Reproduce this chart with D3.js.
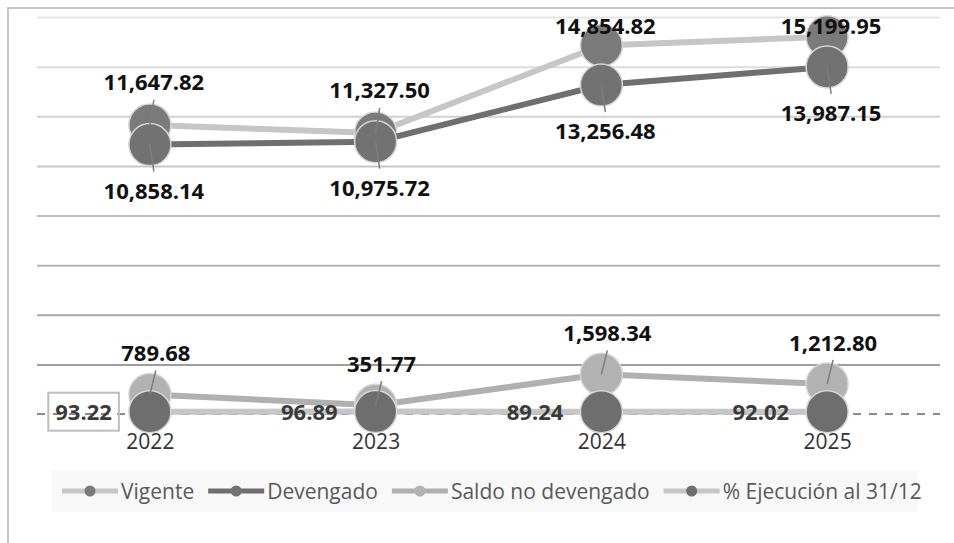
<!DOCTYPE html>
<html>
<head>
<meta charset="utf-8">
<script src="https://cdn.jsdelivr.net/npm/d3@7"></script>
<style>
  body { margin: 0; background: #fff; }
  svg { display: block; font-family: "Open Sans", sans-serif; }
</style>
</head>
<body>
<script>
// data
const years = ["2022", "2023", "2024", "2025"];
const vigente = [11647.82, 11327.50, 14854.82, 15199.95];
const devengado = [10858.14, 10975.72, 13256.48, 13987.15];
const saldo = [789.68, 351.77, 1598.34, 1212.80];
const ejecucion = [93.22, 96.89, 89.24, 92.02];
const yTicks = [2000, 4000, 6000, 8000, 10000, 12000, 14000, 16000];
const legendNames = ["Vigente", "Devengado", "Saldo no devengado", "% Ejecución al 31/12"];

const W = 954, H = 543;
const plotLeft = 37, plotRight = 940, plotTop = 17, zeroY = 414;

const svg = d3.select("body").append("svg")
    .attr("width", W)
    .attr("height", H);

// chart frame (only left/top edges visible)
svg.append("path")
    .attr("d", "M8,543 V8 H954")
    .attr("fill", "none")
    .attr("stroke", "#c3c3c3")
    .attr("stroke-width", 2);

const x = d3.scalePoint().domain(years).range([plotLeft, plotRight]).padding(0.5);
const y = d3.scaleLinear().domain([0, 16000]).range([zeroY, plotTop]);

// gridlines, getting darker towards the bottom
const gridColor = d3.scaleLinear().domain([16000, 2000]).range(["#e6e6e6", "#9e9e9e"]);
const grid = svg.append("g")
    .attr("transform", "translate(" + plotLeft + ",0)")
    .call(d3.axisLeft(y).tickValues(yTicks).tickSize(-(plotRight - plotLeft)).tickFormat(""));
grid.select(".domain").remove();
grid.selectAll(".tick line")
    .attr("stroke", d => gridColor(d))
    .attr("stroke-width", 2);

// dashed zero line
svg.append("line")
    .attr("x1", plotLeft).attr("x2", plotRight)
    .attr("y1", y(0)).attr("y2", y(0))
    .attr("stroke", "#8a8a8a")
    .attr("stroke-width", 2)
    .attr("stroke-dasharray", "8,8");

// x axis labels
const xAxis = svg.append("g")
    .attr("transform", "translate(0," + zeroY + ")")
    .call(d3.axisBottom(x).tickSize(0).tickPadding(20));
xAxis.select(".domain").remove();
xAxis.selectAll("text")
    .attr("font-family", "Open Sans, sans-serif")
    .attr("font-size", 21)
    .attr("fill", "#333");

const series = [
    { name: legendNames[0], values: vigente, line: "#c6c6c6", dot: "#7a7a7a" },
    { name: legendNames[1], values: devengado, line: "#6f6f6f", dot: "#727272" },
    { name: legendNames[2], values: saldo, line: "#b0b0b0", dot: "#b2b2b2" },
    { name: legendNames[3], values: ejecucion, line: "#c6c6c6", dot: "#6e6e6e" }
];

const line = d3.line()
    .x((d, i) => x(years[i]))
    .y(d => y(d));

series.forEach(s => {
    svg.append("path")
        .datum(s.values)
        .attr("d", line)
        .attr("fill", "none")
        .attr("stroke", s.line)
        .attr("stroke-width", 6);

    svg.selectAll(null)
        .data(s.values)
        .enter()
        .append("circle")
        .attr("cx", (d, i) => x(years[i]))
        .attr("cy", d => y(d))
        .attr("r", 21)
        .attr("fill", s.dot)
        .attr("stroke", "#d6d6d6")
        .attr("stroke-width", 1.5);
});

const fmt = d3.format(",.2f");
const labels = svg.append("g");
const leaders = svg.append("g");

function addLabels(values, place, color) {
    values.forEach((v, i) => {
        const px = x(years[i]), py = y(v);
        const p = place(px, py);
        labels.append("text")
            .attr("x", p.x)
            .attr("y", p.y)
            .attr("text-anchor", p.anchor || "middle")
            .attr("font-size", 22)
            .attr("font-weight", "bold")
            .attr("fill", color)
            .text(fmt(v));
        if (p.lead) {
            leaders.append("line")
                .attr("x1", p.lead[0]).attr("y1", p.lead[1])
                .attr("x2", px).attr("y2", py)
                .attr("stroke", "#7d7d7d")
                .attr("stroke-width", 1.5);
        }
    });
}

// vigente above, pushed down when it hits the top
addLabels(vigente, (px, py) => {
    const ly = Math.max(py - 35, 34);
    return { x: px + 4, y: ly, lead: py - ly > 20 ? [px + 4, ly + 10] : null };
}, "#111");

// devengado below
addLabels(devengado, (px, py) => {
    const ly = py + 54;
    return { x: px + 4, y: ly, lead: [px + 4, ly - 27] };
}, "#111");

// saldo above
addLabels(saldo, (px, py) => {
    const ly = py - 33;
    return { x: px + 6, y: ly, lead: [px + 6, ly + 9] };
}, "#111");

// ejecucion to the left
addLabels(ejecucion, (px, py) => ({ x: px - 38, y: py + 8, anchor: "end" }), "#3a3a3a");

// box around the first % label
const firstPct = labels.selectAll("text").filter((d, i, n) => n[i].textContent === fmt(ejecucion[0])).node();
if (firstPct) {
    const b = firstPct.getBBox();
    labels.insert("rect", ":first-child")
        .attr("x", b.x - 7)
        .attr("y", b.y - 3)
        .attr("width", b.width + 14)
        .attr("height", b.height + 8)
        .attr("fill", "none")
        .attr("stroke", "#bdbdbd")
        .attr("stroke-width", 2);
}

// legend
const legend = svg.append("g");
legend.append("rect")
    .attr("x", 52).attr("y", 470)
    .attr("width", 866).attr("height", 42)
    .attr("fill", "#f8f8f8");

let lx = 62;
series.forEach(s => {
    const g = legend.append("g").attr("transform", "translate(" + lx + ",491)");
    g.append("line")
        .attr("x1", 0).attr("x2", 56)
        .attr("stroke", s.line)
        .attr("stroke-width", 5);
    g.append("circle")
        .attr("cx", 28).attr("r", 5.5)
        .attr("fill", s.dot);
    const t = g.append("text")
        .attr("x", 59)
        .attr("y", 8)
        .attr("font-size", 21)
        .attr("fill", "#595959")
        .text(s.name);
    lx += 59 + t.node().getComputedTextLength() + 14;
});
</script>
</body>
</html>
